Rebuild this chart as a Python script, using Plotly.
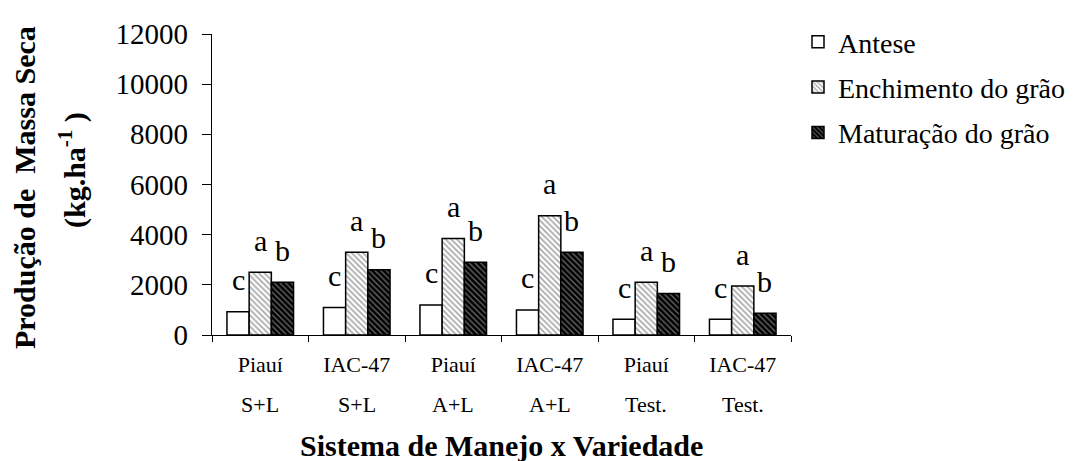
import plotly.graph_objects as go

# ---- data ----
variedade = ["Piauí", "IAC-47", "Piauí", "IAC-47", "Piauí", "IAC-47"]
sistema = ["S+L", "S+L", "A+L", "A+L", "Test.", "Test."]
antese = [930, 1100, 1200, 1000, 630, 630]
enchimento = [2500, 3300, 3850, 4750, 2100, 1950]
maturacao = [2100, 2600, 2900, 3300, 1650, 870]
letras_antese = ["c", "c", "c", "c", "c", "c"]
letras_enchimento = ["a", "a", "a", "a", "a", "a"]
letras_maturacao = ["b", "b", "b", "b", "b", "b"]
series_names = ["Antese", "Enchimento do grão", "Maturação do grão"]
y_ticks = [0, 2000, 4000, 6000, 8000, 10000, 12000]
y_ticktext = ["0", "2000", "4000", "6000", "8000", "10000", "12000"]

FONT = "Liberation Serif, Times New Roman, serif"
OFF = 8  # page body margin offset
W, H = 1075, 461
PW, PH = 579, 301
L, T = 212 - OFF, 34 - OFF
R, B = W - L - PW, H - T - PH
BOTTOM = T + PH  # figure y of x axis
BARGAP = 0.31
xs = list(range(len(variedade)))


def px_x(p):  # window pixel x -> paper x
    return (p - OFF - L) / PW


def px_y(p):  # window pixel y -> paper y
    return (BOTTOM - (p - OFF)) / PH


fig = go.Figure()
fig.add_trace(go.Bar(
    x=xs, y=antese, name=series_names[0], legendgroup="g1",
    marker=dict(color="white", line=dict(color="black", width=1.5)),
))
fig.add_trace(go.Bar(
    x=xs, y=enchimento, name=series_names[1], legendgroup="g2",
    marker=dict(color="white", line=dict(color="black", width=1.5),
                pattern=dict(shape="\\", fgcolor="#555555", bgcolor="white",
                             size=4, solidity=0.45)),
))
fig.add_trace(go.Bar(
    x=xs, y=maturacao, name=series_names[2], legendgroup="g3",
    marker=dict(color="black", line=dict(color="black", width=1.5),
                pattern=dict(shape="\\", fgcolor="#dddddd", bgcolor="black",
                             size=4, solidity=0.3)),
))

# significance letters above bars
bw = (1 - BARGAP) / 3
annotations = []
for k, (vals, labs) in enumerate([(antese, letras_antese),
                                  (enchimento, letras_enchimento),
                                  (maturacao, letras_maturacao)]):
    for i, (v, lab) in enumerate(zip(vals, labs)):
        annotations.append(dict(
            x=i + (k - 1) * bw, y=v, xref="x", yref="y", text=lab,
            showarrow=False, yanchor="middle", yshift=32,
            font=dict(family=FONT, size=30, color="black")))

# second row of x tick labels (management system)
for i, s in enumerate(sistema):
    annotations.append(dict(
        x=i, y=px_y(404), xref="x", yref="paper", text=s,
        showarrow=False, yanchor="middle",
        font=dict(family=FONT, size=22, color="black")))

# x-axis title
annotations.append(dict(
    x=0.5, y=px_y(445), xref="paper", yref="paper",
    text="<b>Sistema de Manejo x Variedade</b>", showarrow=False,
    yanchor="middle", font=dict(family=FONT, size=30, color="black")))

# y-axis title (two lines)
annotations.append(dict(
    x=px_x(24), y=px_y(187),
    xref="paper", yref="paper", text="<b>Produção de  Massa Seca</b>",
    textangle=-90, showarrow=False, xanchor="center", yanchor="middle",
    font=dict(family=FONT, size=30, color="black")))
annotations.append(dict(
    x=px_x(72), y=px_y(170),
    xref="paper", yref="paper", text="<b>(kg.ha<sup>-1</sup> )</b>",
    textangle=-90, showarrow=False, xanchor="center", yanchor="middle",
    font=dict(family=FONT, size=30, color="black")))

fig.update_layout(
    width=W, height=H,
    margin=dict(l=L, r=R, t=T, b=B, pad=0, autoexpand=False),
    paper_bgcolor="white", plot_bgcolor="white",
    barmode="group", bargap=BARGAP, bargroupgap=0,
    font=dict(family=FONT, color="black"),
    showlegend=True,
    legend=dict(x=px_x(798), y=px_y(17), xanchor="left", yanchor="top",
                font=dict(family=FONT, size=28, color="black"),
                tracegroupgap=6, traceorder="grouped",
                bgcolor="rgba(0,0,0,0)", borderwidth=0),
    annotations=annotations,
)
fig.update_xaxes(
    range=[-0.5, len(xs) - 0.5], tickmode="array", tickvals=xs, ticktext=variedade,
    ticks="", showline=True, linecolor="black", linewidth=1.2,
    showgrid=False, zeroline=False, automargin=False,
    tickfont=dict(family=FONT, size=22, color="black"), ticklabelstandoff=9,
    minor=dict(tickmode="array", tickvals=[x - 0.5 for x in xs] + [len(xs) - 0.5],
               ticks="outside", ticklen=6, tickcolor="black", tickwidth=1.2,
               showgrid=False),
)
fig.update_yaxes(
    range=[0, 12000], tickmode="array", tickvals=y_ticks, ticktext=y_ticktext,
    ticks="outside", ticklen=9, tickcolor="black", tickwidth=1.2,
    showline=True, linecolor="black", linewidth=1.2,
    showgrid=False, zeroline=False, automargin=False,
    tickfont=dict(family=FONT, size=29, color="black"), ticklabelstandoff=8,
)

fig.write_html("out.html")
